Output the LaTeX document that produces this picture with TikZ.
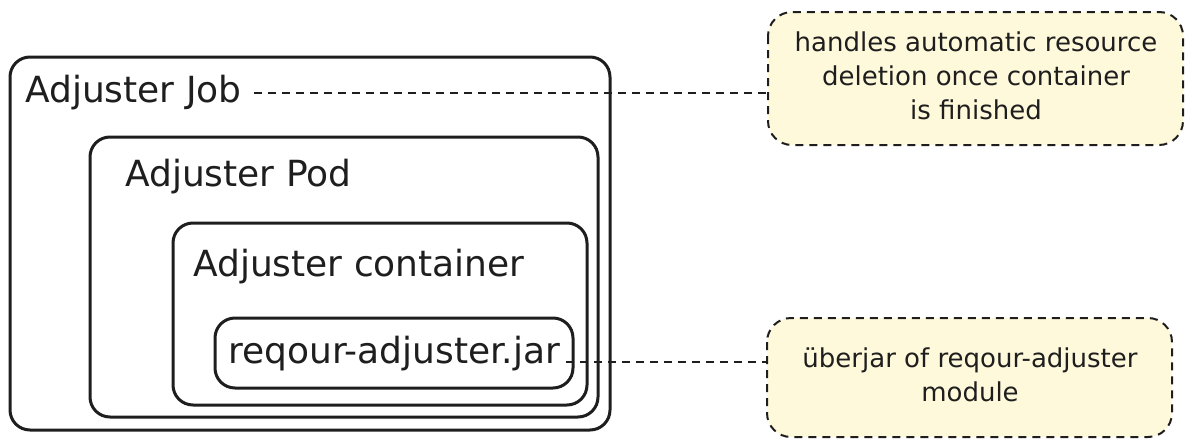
\documentclass[tikz,border=0pt]{standalone}
\usepackage{fontspec}
\setmainfont{DejaVu Sans}
\usepackage{tikz}
\usetikzlibrary{positioning,arrows.meta}
\definecolor{notefill}{HTML}{FFF9DB}
\definecolor{ink}{HTML}{1E1E1E}

\begin{document}
\begin{tikzpicture}[x=1pt,y=-1pt,
  frame/.style={draw=ink,line width=3pt,rounded corners=20pt},
  note/.style={draw=ink,fill=notefill,line width=2pt,dash pattern=on 8pt off 6pt,rounded corners=24pt},
  lbl/.style={inner sep=0pt,anchor=west,text=ink,font=\fontsize{36}{40}\selectfont},
  notetxt/.style={align=center,text=ink,inner sep=0pt,font=\fontsize{26}{34}\selectfont},
  link/.style={draw=ink,line width=1.6pt,dash pattern=on 8pt off 6pt}]
\useasboundingbox (0,0) rectangle (1194,447);
% nested boxes
\draw[frame] (10,57) rectangle (610,430);
\draw[frame] (90,137) rectangle (598,417);
\draw[frame] (173,223) rectangle (587,405);
\draw[frame] (215,318) rectangle (573,388);
\node[lbl] (job) at (25,93) {Adjuster Job};
\node[lbl] (pod) at (125,177) {Adjuster Pod};
\node[lbl] (ctr) at (193,267) {Adjuster container};
\node[lbl] (jar) at (228,354) {reqour-adjuster.jar};
% notes
\draw[note] (768,12) rectangle (1183,145);
\node[notetxt] (deletion) at (976,76) {handles automatic resource\\deletion once container\\is finished};
\draw[note] (767,318) rectangle (1172,437);
\node[notetxt] (uberjar) at (970,375) {überjar of reqour-adjuster\\module};
\coordinate (n1) at (768,93);
\coordinate (n2) at (767,362);
% links
\draw[link] ([xshift=12pt]job.east) -- (n1);
\draw[link] ([xshift=6pt]jar.east |- n2) -- (n2);
\end{tikzpicture}
\end{document}
